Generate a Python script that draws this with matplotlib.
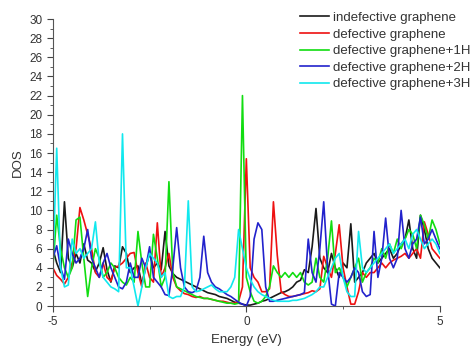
import numpy as np
import matplotlib.pyplot as plt
from matplotlib.ticker import MultipleLocator

# energy grid (eV), 0.1 eV step
energy = np.round(np.arange(-5.0, 5.01, 0.1), 2)

indefective = [
    6.0, 4.5, 3.5, 10.9, 5.0, 4.0, 5.5, 4.5, 6.5, 4.8,
    4.5, 3.6, 4.5, 6.1, 3.8, 2.5, 4.2, 4.0, 6.2, 5.5,
    3.5, 4.0, 4.2, 2.3, 4.0, 5.5, 4.0, 4.5, 3.8, 7.8,
    4.2, 3.4, 3.0, 2.8, 2.6, 2.4, 2.2, 2.0, 1.8, 1.6,
    1.4, 1.3, 1.2, 1.0, 0.9, 0.8, 0.6, 0.4, 0.3, 0.2,
    0.1, 0.1, 0.2, 0.3, 0.5, 0.6, 0.8, 1.0, 1.2, 1.4,
    1.5, 1.7, 2.0, 2.5, 2.7, 3.8, 3.5, 6.2, 10.2, 5.0,
    4.0, 3.5, 5.5, 4.0, 3.0, 4.5, 4.0, 8.6, 2.5, 3.0,
    3.5, 4.5, 5.0, 5.5, 4.5, 5.0, 5.5, 6.0, 5.0, 5.5,
    6.5, 7.0, 9.0, 6.0, 5.0, 9.5, 8.0, 6.0, 5.0, 4.5, 4.0,
]
defective = [
    4.0, 3.2, 2.8, 2.3, 3.0, 4.5, 6.0, 10.3, 9.0, 7.5,
    6.0, 3.5, 3.0, 4.5, 3.0, 2.6, 4.0, 4.2, 4.5, 5.0,
    5.5, 5.6, 3.5, 2.0, 4.5, 3.0, 2.5, 8.7, 3.0, 4.0,
    5.5, 3.0, 2.0, 1.6, 1.3, 1.2, 1.0, 0.9, 1.0, 0.8,
    0.8, 0.7, 0.6, 0.5, 0.5, 0.4, 0.3, 0.3, 0.5, 2.0,
    15.4, 4.0, 3.0, 2.5, 1.5, 1.5, 1.8, 10.9, 5.3, 1.5,
    1.2, 1.0, 1.0, 1.1, 1.2, 1.3, 1.4, 1.6, 1.5, 1.8,
    5.2, 4.0, 3.0, 5.5, 8.5, 4.0, 2.0, 0.2, 0.2, 1.5,
    3.5, 3.0, 3.5, 3.5, 4.0, 4.5, 4.0, 4.5, 4.8, 5.0,
    5.2, 5.5, 5.0, 5.5, 6.0, 5.0, 8.8, 7.5, 6.0, 5.5, 5.0,
]
defective_1h = [
    4.0, 9.5, 6.0, 4.0, 3.0, 4.0, 9.0, 9.3, 5.0, 1.0,
    4.0, 6.0, 5.0, 3.0, 3.5, 4.5, 4.0, 3.0, 2.5, 2.2,
    3.0, 2.5, 7.8, 4.5, 2.0, 2.0, 7.5, 5.0, 2.0, 3.0,
    13.0, 3.5, 2.0, 1.8, 1.6, 1.4, 1.2, 1.0, 0.9, 0.8,
    0.8, 0.7, 0.6, 0.5, 0.4, 0.3, 0.3, 0.2, 0.3, 22.0,
    3.0, 1.5, 0.5, 0.3, 0.5, 1.0, 2.0, 4.2, 3.5, 3.0,
    3.5, 3.0, 3.5, 3.0, 3.5, 2.5, 2.2, 2.5, 5.0, 3.0,
    2.5, 5.0, 8.9, 3.5, 4.0, 3.0, 2.0, 3.0, 4.0, 5.0,
    2.5, 3.5, 4.0, 5.0, 4.5, 6.0, 5.0, 6.5, 5.5, 7.0,
    6.0, 7.0, 8.0, 7.5, 6.0, 9.5, 8.5, 7.0, 9.0, 8.0, 6.5,
]
defective_2h = [
    5.0, 6.3, 4.0, 2.8, 7.0, 5.5, 4.5, 5.0, 6.0, 8.0,
    5.0, 4.0, 3.0, 4.5, 5.5, 4.0, 3.0, 2.0, 1.8, 2.5,
    4.5, 3.0, 3.0, 5.0, 4.0, 6.2, 3.0, 2.5, 2.0, 1.2,
    1.1, 4.0, 8.2, 4.0, 2.0, 1.5, 1.4, 1.6, 3.0, 7.3,
    3.5, 2.5, 2.0, 1.8, 1.5, 1.2, 1.0, 0.7, 0.4, 0.2,
    0.0, 1.0, 7.0, 8.7, 8.0, 2.0, 0.5, 0.5, 0.6, 0.7,
    0.8, 0.9, 1.0, 1.1, 1.2, 1.4, 7.0, 3.5, 2.5, 6.0,
    10.9, 4.0, 0.2, 0.0, 3.5, 3.0, 2.5, 3.0, 4.0, 3.5,
    1.5, 1.0, 1.2, 7.8, 3.0, 5.0, 9.2, 5.0, 4.0, 5.0,
    10.0, 6.0, 5.0, 6.5, 7.0, 9.3, 6.5, 7.0, 8.0, 7.0, 6.0,
]
defective_3h = [
    4.0, 16.5, 4.0, 2.0, 2.2, 7.0, 5.5, 6.0, 5.0, 5.5,
    6.0, 8.8, 4.5, 3.0, 2.5, 2.0, 1.8, 1.5, 18.0, 4.0,
    4.0, 2.0, 0.0, 2.0, 4.0, 5.5, 5.0, 4.5, 3.0, 3.5,
    1.0, 0.8, 1.0, 1.0, 2.0, 11.0, 2.0, 1.5, 1.6, 1.8,
    2.0, 2.2, 1.8, 1.5, 1.5, 1.5, 2.0, 3.0, 8.0, 6.0,
    4.0, 2.8, 2.0, 1.5, 1.2, 1.0, 0.8, 0.6, 0.5, 0.5,
    0.5, 0.5, 0.6, 0.6, 0.7, 0.8, 1.0, 1.2, 1.5, 2.0,
    2.0, 3.0, 4.0, 5.0, 5.5, 3.0, 1.5, 1.0, 1.0, 7.8,
    4.0, 3.5, 4.0, 4.5, 5.0, 5.5, 6.0, 6.5, 5.5, 6.0,
    6.5, 7.0, 6.0, 7.5, 8.0, 7.0, 6.0, 6.5, 7.0, 6.5, 5.5,
]

labels = ["indefective graphene", "defective graphene", "defective graphene+1H",
          "defective graphene+2H", "defective graphene+3H"]
colors = ["#1a1a1a", "#ee1111", "#11dd11", "#2222cc", "#11e8ee"]

plt.rcParams['font.family'] = ['Liberation Sans', 'DejaVu Sans']
plt.rcParams['axes.unicode_minus'] = False

fig = plt.figure(figsize=(4.76, 3.47), dpi=100)
ax = fig.add_axes([0.111, 0.118, 0.813, 0.827])

for series, lab, col in zip([indefective, defective, defective_1h, defective_2h, defective_3h], labels, colors):
    ax.plot(energy, series, color=col, lw=1.2, label=lab)

ax.set_xlim(-5, 5)
ax.set_ylim(0, 30)
ax.xaxis.set_major_locator(MultipleLocator(5))
ax.xaxis.set_minor_locator(MultipleLocator(2.5))
ax.yaxis.set_major_locator(MultipleLocator(2))
ax.yaxis.set_minor_locator(MultipleLocator(1))
ax.tick_params(which='both', direction='out', color='#444444', labelsize=8.5, labelcolor='#333333')
ax.tick_params(which='major', length=4)
ax.tick_params(which='minor', length=2)

for side in ['top', 'right']:
    ax.spines[side].set_visible(False)
for side in ['left', 'bottom']:
    ax.spines[side].set_color('#555555')

ax.set_xlabel("Energy (eV)", fontsize=9.5, color='#333333', labelpad=4)
ax.set_ylabel("DOS", fontsize=9.5, color='#333333', labelpad=4)

ax.legend(loc='upper left', bbox_to_anchor=(0.605, 1.0), bbox_transform=fig.transFigure,
          frameon=False, fontsize=9.5, handlelength=2.2, handletextpad=0.3,
          labelspacing=0.33, labelcolor='#333333')

fig.savefig("out.png", dpi=100)
